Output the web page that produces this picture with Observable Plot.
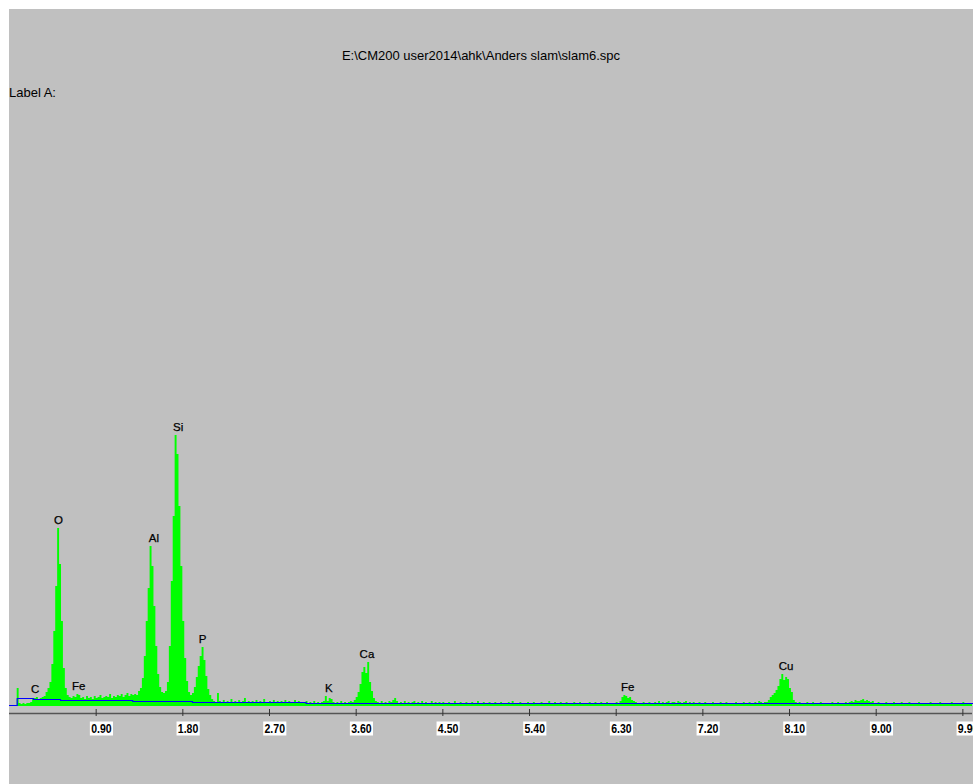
<!DOCTYPE html>
<html>
<head>
<meta charset="utf-8">
<script src="https://cdn.jsdelivr.net/npm/d3@7"></script>
<script src="https://cdn.jsdelivr.net/npm/@observablehq/plot@0.6"></script>
<style>
  html, body { margin: 0; padding: 0; background: #ffffff; }
  #frame { position: absolute; left: 9px; top: 9px; width: 964px; height: 775px; background: #c0c0c0; overflow: hidden; font-family: "Liberation Sans", Arial, sans-serif; color: #000; }
  #title { position: absolute; left: 0; top: 40px; width: 944px; text-align: center; font-size: 13px; line-height: 14px; white-space: pre; }
  #labelA { position: absolute; left: 0; top: 77px; font-size: 13px; line-height: 14px; white-space: pre; }
  #chart { position: absolute; left: 0; top: 100px; }
</style>
</head>
<body>
<div id="frame">
  <div id="title"></div>
  <div id="labelA"></div>
  <div id="chart"></div>
</div>
<script>
// ---------- data ----------
const titleText = "E:\\CM200 user2014\\ahk\\Anders slam\\slam6.spc";
const labelText = "Label A:";

// spectrum: counts per 0.02 keV channel, starting at 0.00 keV (rows of 0.5 keV)
const startEnergy = 0;
const binWidth = 0.02;
const spectrum = [
  0,0,0,0,18,3,2,3,2,3,3,4,7,8,9,7,8,9,10,14,18,24,42,75,120,          // 0.00-0.48
  178,142,85,38,18,11,9,8,10,9,12,11,8,9,7,10,8,9,7,10,8,9,11,8,9,     // 0.50-0.98
  10,9,12,8,10,9,11,10,12,9,11,13,10,12,11,12,11,15,18,28,50,85,118,160,140, // 1.00-1.48
  100,60,32,19,14,13,15,24,60,125,190,271,252,200,140,85,48,25,14,11,13,19,29,40,50, // 1.50-1.98
  59,46,30,17,11,7,5,4,13,5,4,6,3,5,4,7,4,5,3,6,4,5,8,4,5,             // 2.00-2.48
  3,5,4,6,3,5,4,7,4,3,5,4,6,3,5,4,5,3,6,4,5,3,4,6,4,                   // 2.50-2.98
  5,3,4,3,5,3,4,3,5,3,4,3,4,5,10,5,8,7,4,3,4,3,5,3,4,                  // 3.00-3.48
  3,4,5,4,6,9,14,22,34,39,33,44,24,15,8,5,4,3,5,3,4,3,5,4,6,           // 3.50-3.98
  8,5,3,4,3,5,3,4,3,4,5,3,4,3,5,3,4,3,3,5,3,4,3,4,3,                   // 4.00-4.48
  4,3,2,4,3,3,5,2,3,4,3,2,4,3,3,4,2,3,5,3,2,4,3,3,4,                   // 4.50-4.98
  3,2,4,3,2,4,3,3,2,4,3,5,2,3,3,4,2,3,3,4,2,3,4,2,3,                   // 5.00-5.48
  3,4,2,3,3,5,3,2,4,3,3,4,2,3,4,3,2,3,4,3,2,4,3,3,2,                   // 5.50-5.98
  3,4,3,2,4,3,3,4,2,3,4,3,3,2,3,4,3,5,9,11,10,8,9,6,5,                 // 6.00-6.48
  4,3,3,2,4,3,3,4,3,2,4,3,5,3,4,3,4,5,3,4,4,3,5,4,3,                   // 6.50-6.98
  4,5,3,4,3,4,3,2,4,3,3,4,2,3,3,4,3,2,3,4,3,2,4,3,3,                   // 7.00-7.48
  2,3,4,3,2,3,4,3,3,4,3,3,4,3,5,4,3,4,4,6,9,11,13,16,20,               // 7.50-7.98
  27,32,26,29,27,18,14,6,4,3,4,3,3,2,4,3,3,4,2,3,3,4,3,2,3,            // 8.00-8.48
  3,2,4,3,3,4,2,3,3,4,3,4,5,4,6,5,5,6,7,5,6,5,4,5,3,                   // 8.50-8.98
  3,4,3,2,3,4,3,3,2,4,3,3,2,4,3,3,2,4,3,3,2,3,4,3,2,                   // 9.00-9.48
  3,3,2,4,3,2,3,3,4,2,3,3,2,3,4,3,2,3,3,2,4,3,2,3,3                    // 9.50-9.98
];

// fitted background (blue step line)
const bgEnergy = [0, 0.08, 0.25, 0.53, 1.28, 1.90, 3.08, 10.0];
const bgCounts = [1, 8, 7, 6, 5, 4, 3, 3];

// peak identification labels
const peakNames    = ["C", "O", "Fe", "Al", "Si", "P", "K", "Ca", "Fe", "Cu"];
const peakEnergies = [0.267, 0.509, 0.718, 1.500, 1.752, 2.005, 3.315, 3.712, 6.420, 8.065];

// x-axis tick labels (keV)
const tickLabels = ["0.90", "1.80", "2.70", "3.60", "4.50", "5.40", "6.30", "7.20", "8.10", "9.00", "9.90"];

// ---------- build ----------
document.getElementById("title").textContent = titleText;
document.getElementById("labelA").textContent = labelText;

const bins = spectrum.map((c, i) => ({e0: startEnergy + i * binWidth, e1: startEnergy + (i + 1) * binWidth, c}));
const areaData = bins.map(b => ({e: b.e0, c: b.c})).concat([{e: bins[bins.length - 1].e1, c: bins[bins.length - 1].c}]);
const bg = bgEnergy.map((e, i) => ({e, c: bgCounts[i]}));
const labels = peakNames.map((name, i) => {
  const e = peakEnergies[i];
  const near = bins.filter(b => b.e1 > e - 0.04 && b.e0 < e + 0.04);
  return {name, e, c: d3.max(near, b => b.c)};
});
const ticks = tickLabels.map(Number);

const plot = Plot.plot({
  width: 964,
  height: 675,
  marginLeft: 0,
  marginRight: 1,
  marginTop: 0,
  marginBottom: 78,
  style: {background: "transparent", overflow: "visible", fontFamily: "'Liberation Sans', Arial, sans-serif"},
  x: {domain: [0, 10], axis: null},
  y: {domain: [0, 597], axis: null},
  marks: [
    Plot.areaY(areaData, {x: "e", y: "c", curve: "step-after", fill: "#00ff00"}),
    Plot.line(bg, {x: "e", y: "c", curve: "step-after", stroke: "#0000ff", strokeWidth: 1.2}),
    Plot.ruleY([0], {dy: 7, stroke: "#555555", strokeWidth: 1.3}),
    Plot.axisX(ticks, {tickSize: 7, dy: 3, tickFormat: () => "", label: null, stroke: "#333333"}),
    Plot.text(ticks, {
      x: d => d, text: (d, i) => tickLabels[i], frameAnchor: "bottom", lineAnchor: "middle", dy: 22, dx: -5,
      textAnchor: "start", fontWeight: "bold", fontSize: 12.5, fill: "#000", className: "tick-label"
    }),
    Plot.text(labels, {
      x: "e", y: "c", text: "name", dy: -8, lineAnchor: "middle", fontSize: 11.5,
      fill: "#000", stroke: "#000", strokeWidth: 0.25
    })
  ]
});

document.getElementById("chart").append(plot);

// white boxes behind tick labels
const svgNS = "http://www.w3.org/2000/svg";
plot.querySelectorAll("g.tick-label text").forEach(t => {
  t.setAttribute("textLength", "20.5");
  t.setAttribute("lengthAdjust", "spacingAndGlyphs");
  const b = t.getBBox();
  const r = document.createElementNS(svgNS, "rect");
  r.setAttribute("x", b.x - 1.3);
  r.setAttribute("y", b.y + b.height / 2 - 7);
  r.setAttribute("width", b.width + 2.6);
  r.setAttribute("height", 14);
  r.setAttribute("fill", "#ffffff");
  if (t.getAttribute("transform")) r.setAttribute("transform", t.getAttribute("transform"));
  t.parentNode.insertBefore(r, t);
});
</script>
</body>
</html>
